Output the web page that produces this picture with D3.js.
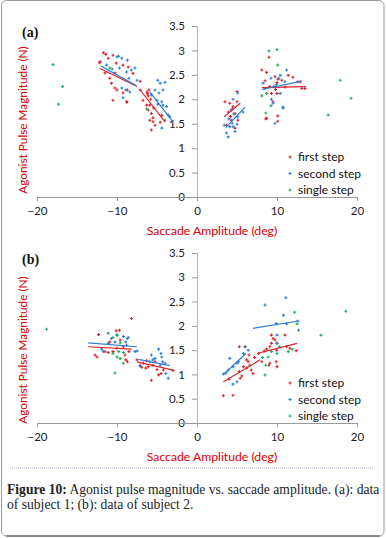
<!DOCTYPE html>
<html><head><meta charset="utf-8">
<script src="https://cdn.jsdelivr.net/npm/d3@7"></script>
<style>body{margin:0;background:#fff}svg{display:block}</style>
</head><body>
<script>
// ---------- DATA ----------
const xTicks = [-20, -10, 0, 10, 20];
const yTicks = [0, 0.5, 1, 1.5, 2, 2.5, 3, 3.5];
const seriesNames = ["first step", "second step", "single step"];
const panelLabels = ["(a)", "(b)"];

const aFirst = [[-11.7,2.95],[-11.4,2.92],[-12.2,2.75],[-11.1,2.84],[-10.5,2.9],[-10.1,2.74],[-11.5,2.54],[-10.25,2.54],[-9.25,2.7],[-8.6,2.66],[-10.7,2.33],[-10.25,2.23],[-10.0,2.19],[-10.5,1.98],[-9.25,2.13],[-8.75,1.94],[-8.0,2.53],[-7.1,2.19],[-6.75,1.98],[-6.25,2.15],[-6.0,2.19],[-6.1,2.07],[-6.3,1.88],[-5.9,1.88],[-6.1,1.78],[-5.7,1.71],[-5.9,1.57],[-5.5,1.62],[-5.25,1.47],[-5.7,1.37],[-4.6,1.53],[-4.4,1.67],[-12.1,2.77],[-10.9,2.43],[-8.8,1.95],[-8.7,2.19],[-7.1,2.37],[-5.5,1.54],[-6.2,2.12],[-5.8,2.0],[-5.4,1.82],
  [3.5,1.95],[5.0,2.16],[4.1,1.92],[4.5,1.85],[5.0,1.95],[3.9,1.74],[4.75,1.71],[4.3,1.57],[5.1,1.57],[3.7,1.47],[4.75,1.41],[4.4,1.8],[4.2,1.65],
  [9.0,2.86],[8.7,2.55],[9.75,2.46],[10.0,2.34],[10.6,2.39],[11.4,2.49],[12.0,2.45],[12.6,2.36],[13.1,2.22],[13.5,2.22],[9.1,2.26],[9.3,2.12],[10.0,2.12],[9.5,1.95],[8.6,1.6],[10.1,1.55],[8.5,2.38],[8.1,2.6],[10.1,2.41],[12.9,2.36],[10.1,1.66],[8.7,1.61],[9.8,2.2],[11.0,2.25]];
const aSecond = [[-9.8,2.88],[-9.4,2.84],[-9.7,2.64],[-8.8,2.56],[-8.2,2.6],[-8.5,2.43],[-7.5,2.39],[-9.4,2.23],[-8.9,2.19],[-8.4,2.15],[-9.25,2.03],[-4.9,2.39],[-4.6,2.33],[-5.25,2.19],[-4.75,2.13],[-4.4,1.95],[-4.25,1.88],[-5.0,1.98],[-3.8,1.85],[-3.6,1.68],[-4.0,1.57],[-3.2,1.54],[-4.4,1.41],[-3.4,1.64],[-5.7,2.09],[-4.25,2.19],[-10.0,2.87],[-8.7,2.80],[-7.75,2.64],[-4.0,2.35],[-11.3,2.7],[-10.6,2.62],[-4.9,1.9],
  [5.1,2.13],[5.75,1.74],[4.1,1.44],[3.7,1.31],[3.9,1.23],[4.75,1.34],[4.4,1.51],[5.1,1.64],[4.25,1.78],[4.5,2.0],[3.4,1.47],[4.5,1.44],[5.0,1.49],[4.0,1.6],[4.6,1.7],
  [10.4,2.49],[11.0,2.36],[9.25,2.43],[8.25,2.33],[9.6,2.26],[10.4,2.12],[9.3,2.0],[9.5,1.92],[10.75,1.82],[9.75,1.51],[11.2,2.6],[8.5,2.22],[10.25,2.43],[10.75,1.84],[9.9,2.3]];
const aSingle = [[-18,2.71],[-16.8,2.26],[-17.3,1.9],[-10.9,2.64],[-6.3,1.8],[9,2.99],[10,3.02],[10.1,2.7],[17.9,2.39],[19.25,2.02],[16.4,1.68],[8.1,2.07],[8.7,2.12],[8.6,1.72],[9.25,1.87]];
const aFirstFit = [[[-12.1,2.63],[-7.5,2.26]],[[-7.1,2.19],[-4.0,1.54]],[[3.4,1.64],[5.4,1.92]],[[8.1,2.24],[13.6,2.26]]];
const aSecondFit = [[[-12.0,2.68],[-7.6,2.28]],[[-5.9,2.15],[-3.0,1.54]],[[3.6,1.42],[6.0,1.84]],[[8.1,2.2],[13.1,2.37]]];

const bFirst = [[-8.2,2.15],[-12.3,1.82],[-10.1,1.9],[-9.7,1.91],[-10.9,1.67],[-12.75,1.40],[-12.5,1.36],[-11.5,1.47],[-11.1,1.45],[-10.5,1.47],[-10.0,1.54],[-9.2,1.57],[-9.0,1.40],[-8.9,1.30],[-8.7,1.26],[-8.5,1.47],[-9.6,1.71],
  [-7.5,1.30],[-7.1,1.19],[-6.7,1.23],[-6.4,1.13],[-6.1,1.16],[-5.5,1.19],[-5.0,1.10],[-5.7,0.88],[-4.8,0.99],[-4.2,1.09],[-3.0,1.08],[-6.3,1.28],[-5.25,1.26],[-6.9,1.15],[-4.5,1.02],
  [3.3,0.56],[4.5,0.57],[4.0,0.90],[5.3,1.57],[6.0,1.57],[5.4,0.92],[5.6,0.97],[5.8,1.16],[6.2,1.13],[6.4,1.26],[6.6,1.19],[6.8,1.09],[7.0,1.02],[6.2,1.30],[7.7,1.43],[8.1,1.26],[9.3,1.81],[9.5,1.74],[9.75,1.71],[10.0,1.64],[9.3,1.64],[9.1,1.57],[8.7,1.52],[9.96,1.50],[11.0,1.81],[11.2,1.57],[11.6,1.54],[12.4,1.49],[9.0,1.19],[9.9,1.26],[10.0,1.16],[5.3,1.06],[9.1,1.23],[6.5,1.4],[7.2,1.35],[8.4,1.48]];
const bSecond = [[-9.2,1.78],[-8.7,1.74],[-10.25,1.67],[-7.75,1.47],[-10,1.81],[-10.7,1.74],[-8.6,1.76],[-8.9,1.67],[-11.9,1.52],[-11.7,1.47],[-11.1,1.64],[-8.8,1.6],[-7.5,1.48],
  [-4.8,1.52],[-4.5,1.43],[-5.25,1.33],[-5.9,1.26],[-5.5,1.30],[-4.3,1.26],[-4.6,1.19],[-3.9,1.02],[-3.6,0.92],[-7.1,1.17],[-4.0,1.23],[-5.7,1.40],[-4.4,1.36],
  [8.5,2.43],[11.1,2.58],[10.8,2.22],[9.9,2.05],[11.2,2.04],[12.7,1.91],[10.0,1.81],[12.6,2.10],
  [4.1,1.33],[5.0,1.23],[5.2,1.26],[5.8,1.43],[6.4,1.50],[6.0,1.57],[4.5,1.16],[3.6,1.03],[3.9,1.09],[5.0,0.85],[4.5,0.80],[3.3,1.01],[10.0,1.64]];
const bSingle = [[-18.8,1.93],[-11.1,1.85],[-10.5,1.76],[-10,1.81],[-9.6,1.65],[-10.5,1.43],[-9.8,1.47],[-10,1.36],[-9.6,1.33],[-9.2,1.23],[-10.25,1.03],[-9.2,1.45],
  [12.2,2.28],[12.5,2.04],[18.6,2.30],[15.5,1.81],[8.5,0.99],[8.2,1.35],[8.9,1.36],[8.6,1.19],[10,1.43],[10.3,1.57],[11.4,1.47],[11.9,1.52],[9.3,1.47]];
const bFirstFit = [[[-13.6,1.57],[-8.2,1.52]],[[-7.5,1.26],[-3.0,1.09]],[[3.3,0.85],[7.9,1.30]],[[7.5,1.43],[12.5,1.64]]];
const bSecondFit = [[[-13.6,1.65],[-7.5,1.57]],[[-7.3,1.31],[-3.4,1.18]],[[3.4,1.01],[6.1,1.43]],[[7.0,1.95],[12.7,2.10]]];

// ---------- DRAW ----------
const W = 386, H = 538;
const colors = ["#d9232b", "#2a7ed3", "#1fae5a"];
const svg = d3.select("body").append("svg").attr("width", W).attr("height", H);

svg.append("rect").attr("x",1.5).attr("y",0.5).attr("width",382.5).attr("height",535.5)
  .attr("rx",5).attr("fill","#fff").attr("stroke","#9a9a9a").attr("stroke-width",1);
svg.append("line").attr("x1",6).attr("x2",380).attr("y1",536).attr("y2",536).attr("stroke","#444").attr("stroke-width",1);

const panels = [
  {label: panelLabels[0], top: 26, bottom: 197, series: [aFirst, aSecond, aSingle], fits: [aFirstFit, aSecondFit], labelY: 37, titleY: 120},
  {label: panelLabels[1], top: 253, bottom: 423, series: [bFirst, bSecond, bSingle], fits: [bFirstFit, bSecondFit], labelY: 264, titleY: 350}
];

const x = d3.scaleLinear().domain([-20, 20]).range([37, 357]);
const font = "Lato, 'Open Sans', sans-serif";

panels.forEach(p => {
  const y = d3.scaleLinear().domain([0, 3.5]).range([p.bottom, p.top]);
  const g = svg.append("g");

  const ya = g.append("g").attr("transform", `translate(${x(0)},0)`)
    .call(d3.axisLeft(y).tickValues(yTicks).tickSize(5).tickPadding(7).tickFormat(d3.format("")));
  ya.select(".domain").attr("stroke", "#b8b8b8");
  ya.selectAll(".tick line").attr("stroke", "#999");
  ya.selectAll("text").attr("font-family", font).attr("font-size", 11.5).attr("fill", "#222");

  const xa = g.append("g").attr("transform", `translate(0,${p.bottom})`)
    .call(d3.axisBottom(x).tickValues(xTicks).tickSize(4).tickPadding(6).tickFormat(d3.format("")));
  xa.select(".domain").attr("stroke", "#999");
  xa.selectAll(".tick line").attr("stroke", "#999");
  xa.selectAll("text").attr("font-family", font).attr("font-size", 11.5).attr("fill", "#222");

  g.append("text").attr("x", 212).attr("y", p.bottom + 38).attr("text-anchor", "middle")
    .attr("font-family", font).attr("font-size", 12.2).attr("fill", "#d40000").text("Saccade Amplitude (deg)");
  g.append("text").attr("transform", `translate(27,${p.titleY}) rotate(-90)`).attr("text-anchor", "middle")
    .attr("font-family", font).attr("font-size", 11.8).attr("fill", "#d40000").text("Agonist Pulse Magnitude (N)");

  g.append("text").attr("x", 22).attr("y", p.labelY).attr("font-family", "'Liberation Serif', serif")
    .attr("font-size", 14).attr("font-weight", "bold").attr("fill", "#111").text(p.label);

  const plus = d => `M${x(d[0])-1.5},${y(d[1])}h3M${x(d[0])},${y(d[1])-1.5}v3`;
  p.series.forEach((s, i) => {
    g.append("g").selectAll("path").data(s).join("path")
      .attr("d", plus).attr("stroke", colors[i]).attr("stroke-width", 1.1).attr("fill", "none");
  });

  const line = d3.line().x(d => x(d[0])).y(d => y(d[1]));
  p.fits.forEach((f, i) => {
    g.append("g").selectAll("path").data(f).join("path")
      .attr("d", line).attr("stroke", colors[i]).attr("stroke-width", 1.2).attr("fill", "none");
  });

  seriesNames.forEach((n, i) => {
    const ly = p.bottom - 40 + i * 16.5;
    g.append("path").attr("d", `M288.5,${ly}h3M290,${ly-1.5}v3`).attr("stroke", colors[i]).attr("stroke-width", 1.1);
    g.append("text").attr("x", 298).attr("y", ly + 4).attr("font-family", font).attr("font-size", 12)
      .attr("fill", "#111").text(n);
  });
});

svg.append("line").attr("x1", 10).attr("x2", 373).attr("y1", 468).attr("y2", 468)
  .attr("stroke", "#b0b0c8").attr("stroke-width", 1).attr("stroke-dasharray", "1,1");

const cap = svg.append("text").attr("font-family", "'Liberation Serif', serif").attr("font-size", 13.6).attr("fill", "#222");
const l1 = cap.append("tspan").attr("x", 7).attr("y", 494);
l1.append("tspan").attr("font-weight", "bold").text("Figure 10:");
l1.append("tspan").text(" Agonist pulse magnitude vs. saccade amplitude. (a): data");
cap.append("tspan").attr("x", 7).attr("y", 509).text("of subject 1; (b): data of subject 2.");
</script>
</body></html>
